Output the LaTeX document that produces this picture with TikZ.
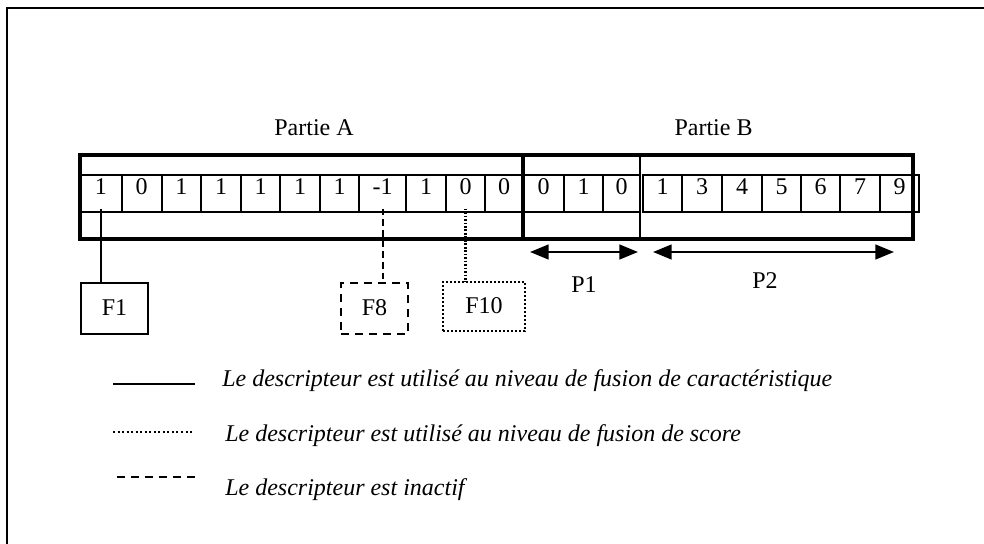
\documentclass[tikz,border=0pt]{standalone}
\usepackage{fontspec}
\setmainfont{Liberation Serif}
\usetikzlibrary{arrows.meta}
\tikzset{
  cellbox/.style={draw, line width=1.5pt, minimum height=27.75pt, inner sep=0pt, outer sep=0pt,
    font=\fontsize{18}{20}\selectfont, text height=8pt, text depth=5.8pt},
  partbox/.style={draw, line width=3pt},
  sepline/.style={line width=1.8pt},
  flab/.style={inner sep=0pt, outer sep=0pt, font=\fontsize{18}{20}\selectfont, text height=12.5pt, text depth=1.3pt},
  fsolid/.style={flab, draw, line width=2pt},
  fdash/.style={flab, draw, line width=2pt, dash pattern=on 6pt off 4.5pt},
  fdot/.style={flab, draw, line width=2pt, dash pattern=on 1.5pt off 1.5pt},
  linksolid/.style={line width=1.4pt},
  linkdash/.style={line width=1.6pt, dash pattern=on 5pt off 3pt},
  linkdot/.style={line width=1.6pt, dash pattern=on 1.3pt off 1.3pt},
  parrow/.style={line width=1.8pt, {Triangle[length=14pt,width=11pt]}-{Triangle[length=14pt,width=11pt]}},
  title/.style={font=\fontsize{18}{20}\selectfont, inner sep=0pt, anchor=base},
  legtext/.style={font=\fontsize{18}{20}\selectfont\itshape, inner sep=0pt, anchor=west},
  legsolid/.style={line width=1.8pt},
  legdot/.style={line width=1.4pt, dash pattern=on 1.5pt off 1.9pt},
  legdash/.style={line width=1.8pt, dash pattern=on 6pt off 4.5pt}
}
\newcommand\mycell[4]{%
  \pgfmathsetmacro\cw{(#3-#2)*0.75}%
  \pgfmathsetmacro\cx{(#2+#3)/2}%
  \node[cellbox, minimum width=\cw pt] (#1) at (\cx,193.5) {#4};}
\begin{document}
\begin{tikzpicture}[x=0.75pt,y=-0.75pt]
\useasboundingbox (0,0) rectangle (984,543);
% outer frame
\draw[line width=1.8pt] (7,560) -- (7,8) -- (1000,8);
% titles
\node[title] (ta) at (314,135) {Partie A};
\node[title] (tb) at (713.5,135) {Partie B};
% cells part A
\mycell{c1}{80}{121.7}{1}
\mycell{c2}{121.7}{161.7}{0}
\mycell{c3}{161.7}{201}{1}
\mycell{c4}{201}{241}{1}
\mycell{c5}{241}{280}{1}
\mycell{c6}{280}{320}{1}
\mycell{c7}{320}{359.3}{1}
\mycell{c8}{359.3}{406}{-1}
\mycell{c9}{406}{446}{1}
\mycell{c10}{446}{485}{0}
\mycell{c11}{485}{523.3}{0}
% cells part B
\mycell{b1}{523}{564}{0}
\mycell{b2}{564}{603}{1}
\mycell{b3}{603}{640}{0}
\mycell{d1}{643}{682}{1}
\mycell{d2}{682}{722}{3}
\mycell{d3}{722}{762}{4}
\mycell{d4}{762}{801}{5}
\mycell{d5}{801}{840}{6}
\mycell{d6}{840}{880}{7}
\mycell{d7}{880}{919}{9}
% part boxes
\draw[partbox] (80,155) rectangle (523,239);
\draw[partbox] (523,155) rectangle (913,239);
\draw[sepline] (640,155) -- (640,239);
% P arrows
\coordinate (p1a) at (530,252);
\coordinate (p1b) at (638,252);
\coordinate (p2a) at (653,252);
\coordinate (p2b) at (894,252);
\draw[parrow] (p1a) -- (p1b);
\draw[parrow] (p2a) -- (p2b);
\node[title] (lp1) at (584,292) {P1};
\node[title] (lp2) at (765,288) {P2};
% F boxes
\node[fsolid, minimum width=50.25pt, minimum height=38.25pt] (F1) at (114.5,308.5) {F1};
\node[fdash, minimum width=50.25pt, minimum height=38.25pt] (F8) at (374.5,308.5) {F8};
\node[fdot, minimum width=61.5pt, minimum height=36.75pt] (F10) at (484,306.5) {F10};
% connectors
\draw[linksolid] ([yshift=2.5pt]c1.south) -- (c1.south |- F1.north);
\draw[linkdash] ([yshift=2.5pt]c8.south) -- (c8.south |- F8.north);
\draw[linkdot] ([yshift=2.5pt]c10.south) -- (c10.south |- F10.north);
% legend
\coordinate (l1a) at (113,384); \coordinate (l1b) at (195,384);
\coordinate (l2a) at (113,432); \coordinate (l2b) at (192,432);
\coordinate (l3a) at (117,477); \coordinate (l3b) at (195,477);
\draw[legsolid] (l1a) -- (l1b);
\draw[legdot] (l2a) -- (l2b);
\draw[legdash] (l3a) -- (l3b);
\node[legtext] (t1) at (222,381) {Le descripteur est utilisé au niveau de fusion de caractéristique};
\node[legtext] (t2) at (225,436) {Le descripteur est utilisé au niveau de fusion de score};
\node[legtext] (t3) at (225,490) {Le descripteur est inactif};
\end{tikzpicture}
\end{document}
